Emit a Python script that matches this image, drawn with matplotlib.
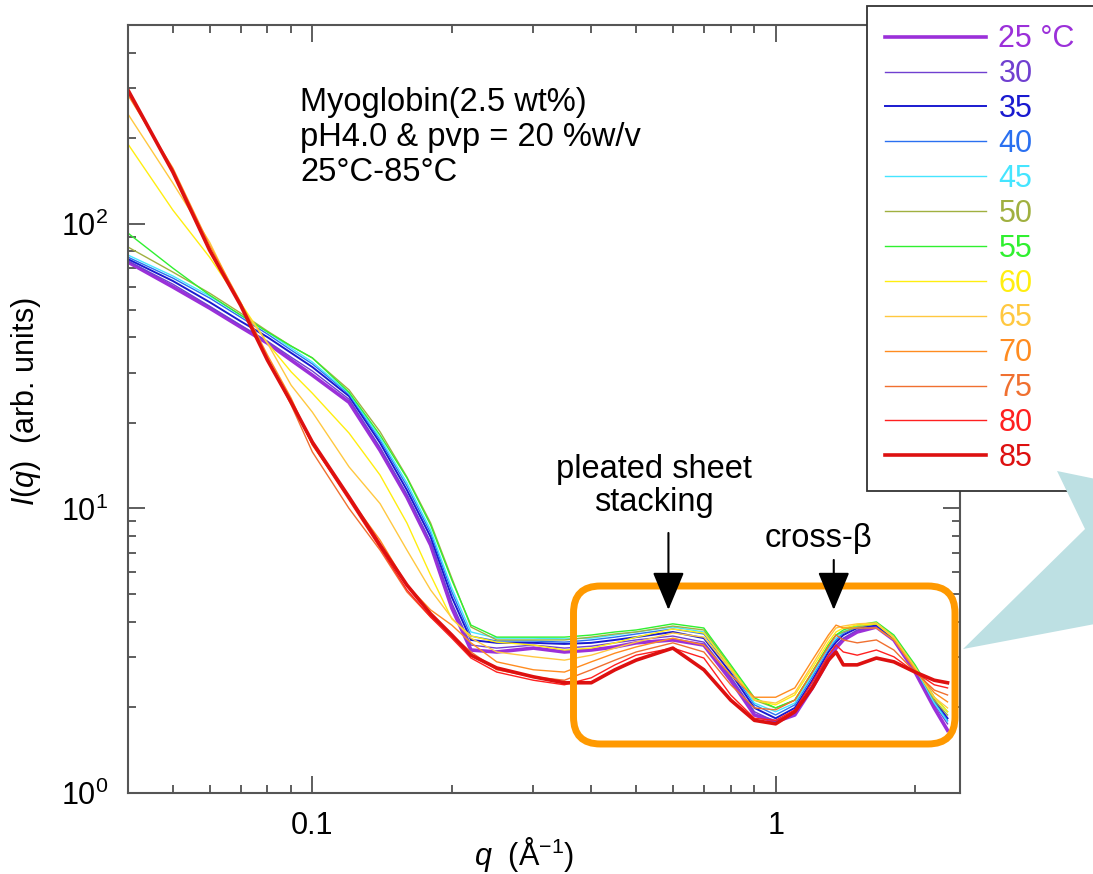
import matplotlib
matplotlib.use("Agg")
import matplotlib.pyplot as plt
from matplotlib.patches import FancyBboxPatch, Polygon
from matplotlib.ticker import FixedLocator, FixedFormatter, LogLocator, NullFormatter

plt.rcParams['font.family'] = ['Liberation Sans', 'DejaVu Sans']
plt.rcParams['mathtext.fontset'] = 'custom'
plt.rcParams['mathtext.rm'] = 'Liberation Sans'
plt.rcParams['mathtext.it'] = 'Liberation Sans:italic'
plt.rcParams['mathtext.bf'] = 'Liberation Sans:bold'

# q grid (1/A)
q = [0.04, 0.05, 0.06, 0.07, 0.08, 0.09, 0.10, 0.12, 0.14, 0.16, 0.18, 0.20,
     0.22, 0.25, 0.30, 0.35, 0.40, 0.45, 0.50, 0.60, 0.70, 0.80, 0.90, 1.00,
     1.10, 1.20, 1.30, 1.35, 1.40, 1.50, 1.65, 1.80, 2.00, 2.20, 2.35]

# I(q) per temperature
I_25 = [73.4, 60.0, 50.6, 43.4, 38.1, 33.2, 29.4, 23.6, 16.0, 10.96, 7.44, 4.47,
        3.18, 3.13, 3.23, 3.13, 3.18, 3.26, 3.37, 3.45, 3.31, 2.49, 1.88, 1.78,
        1.88, 2.34, 2.93, 3.23, 3.45, 3.68, 3.83, 3.45, 2.66, 1.99, 1.66]
I_30 = [74.0, 61.4, 51.4, 44.1, 38.7, 34.0, 30.4, 24.2, 16.4, 11.2, 7.62, 4.65,
        3.31, 3.23, 3.31, 3.23, 3.28, 3.37, 3.45, 3.56, 3.39, 2.56, 1.93, 1.78,
        1.93, 2.40, 3.03, 3.31, 3.50, 3.74, 3.86, 3.48, 2.71, 2.05, 1.75]
I_35 = [75.2, 63.0, 53.1, 45.5, 40.0, 35.2, 31.4, 24.8, 17.0, 11.6, 7.94, 4.88,
        3.45, 3.37, 3.37, 3.34, 3.37, 3.45, 3.53, 3.68, 3.50, 2.64, 1.99, 1.83,
        1.99, 2.49, 3.13, 3.39, 3.59, 3.80, 3.89, 3.50, 2.75, 2.12, 1.83]
I_40 = [76.4, 64.5, 54.9, 47.0, 41.0, 36.0, 32.2, 25.2, 17.4, 12.0, 8.20, 5.09,
        3.56, 3.42, 3.42, 3.39, 3.45, 3.53, 3.62, 3.77, 3.62, 2.71, 2.04, 1.88,
        2.04, 2.56, 3.21, 3.45, 3.65, 3.83, 3.93, 3.53, 2.75, 2.09, 1.80]
I_45 = [77.7, 65.6, 55.8, 47.8, 41.7, 36.6, 32.7, 25.4, 17.7, 12.3, 8.40, 5.25,
        3.68, 3.50, 3.50, 3.48, 3.50, 3.59, 3.68, 3.83, 3.68, 2.75, 2.07, 1.93,
        2.07, 2.60, 3.23, 3.50, 3.68, 3.86, 3.93, 3.53, 2.75, 2.07, 1.78]
I_50 = [82.9, 67.7, 57.1, 48.6, 42.0, 37.2, 33.8, 26.1, 18.6, 12.9, 8.89, 5.69,
        3.83, 3.45, 3.45, 3.45, 3.53, 3.62, 3.68, 3.86, 3.74, 2.77, 2.12, 1.99,
        2.12, 2.66, 3.31, 3.59, 3.68, 3.83, 3.93, 3.53, 2.77, 2.12, 1.88]
I_55 = [92.8, 69.9, 56.2, 47.8, 41.7, 37.2, 33.8, 25.6, 18.1, 12.8, 8.74, 5.60,
        3.89, 3.53, 3.53, 3.53, 3.59, 3.68, 3.74, 3.93, 3.80, 2.82, 2.16, 1.99,
        2.12, 2.66, 3.31, 3.59, 3.74, 3.89, 3.99, 3.59, 2.82, 2.17, 1.93]
I_60 = [190.7, 111.8, 76.4, 52.7, 38.1, 30.2, 25.4, 18.4, 13.1, 8.89, 5.83, 4.09,
        3.56, 3.39, 3.31, 3.18, 3.23, 3.37, 3.53, 3.77, 3.65, 2.75, 2.12, 2.04,
        2.21, 2.75, 3.39, 3.68, 3.80, 3.89, 3.93, 3.50, 2.75, 2.16, 1.93]
I_65 = [243.1, 139.1, 86.3, 51.8, 38.1, 27.1, 21.8, 14.0, 10.4, 7.14, 5.17, 4.12,
        3.50, 3.13, 3.01, 2.93, 3.05, 3.23, 3.39, 3.65, 3.53, 2.71, 2.12, 2.07,
        2.25, 2.82, 3.50, 3.80, 3.86, 3.93, 3.96, 3.53, 2.77, 2.17, 1.99]
I_70 = [283.6, 157.1, 84.2, 53.1, 34.6, 24.4, 16.7, 10.9, 7.74, 5.38, 4.40, 3.89,
        3.37, 2.89, 2.71, 2.66, 2.89, 3.10, 3.26, 3.50, 3.31, 2.60, 2.17, 2.17,
        2.34, 2.93, 3.59, 3.89, 3.80, 3.80, 3.80, 3.45, 2.71, 2.25, 2.09]
I_75 = [288.2, 154.5, 82.2, 51.8, 33.8, 23.1, 15.8, 10.0, 7.14, 5.09, 4.15, 3.59,
        3.13, 2.71, 2.56, 2.49, 2.71, 2.93, 3.13, 3.37, 3.13, 2.40, 1.99, 1.96,
        2.12, 2.66, 3.26, 3.59, 3.45, 3.37, 3.45, 3.18, 2.66, 2.30, 2.21]
I_80 = [292.9, 153.3, 81.5, 51.8, 33.2, 23.5, 16.8, 10.7, 7.26, 5.17, 4.15, 3.50,
        2.98, 2.66, 2.49, 2.40, 2.54, 2.82, 3.05, 3.23, 2.98, 2.21, 1.83, 1.80,
        1.96, 2.45, 3.05, 3.31, 3.13, 3.05, 3.18, 3.01, 2.66, 2.40, 2.34]
I_85 = [295.3, 152.1, 80.9, 51.8, 33.2, 23.6, 17.1, 10.96, 7.44, 5.38, 4.26, 3.59,
        3.05, 2.75, 2.56, 2.44, 2.44, 2.71, 2.93, 3.23, 2.71, 2.12, 1.80, 1.75,
        1.93, 2.34, 2.93, 3.13, 2.82, 2.82, 2.98, 2.89, 2.66, 2.49, 2.44]

labels = ['25 °C', '30', '35', '40', '45', '50', '55', '60', '65', '70', '75', '80', '85']
curves = [I_25, I_30, I_35, I_40, I_45, I_50, I_55, I_60, I_65, I_70, I_75, I_80, I_85]
colors = ['#9b30d9', '#7040d0', '#1a1ad0', '#2a70f0', '#45e5ff', '#a0b040', '#30f030',
          '#ffee10', '#ffc840', '#ff8c20', '#f07030', '#ff2020', '#dd1010']
widths = [2.6, 1.0, 1.4, 1.0, 1.0, 1.0, 1.0, 1.0, 1.0, 1.0, 1.0, 1.0, 2.6]

fig = plt.figure(figsize=(10.93, 8.74), dpi=100)
ax = fig.add_axes([0.1171, 0.0927, 0.7612, 0.8787])

for I, lab, c, lw in zip(curves, labels, colors, widths):
    ax.plot(q, I, color=c, lw=lw, label=lab)

ax.set_xscale('log')
ax.set_yscale('log')
ax.set_xlim(0.04, 2.5)
ax.set_ylim(1, 500)

ax.xaxis.set_major_locator(FixedLocator([0.1, 1]))
ax.xaxis.set_major_formatter(FixedFormatter(['0.1', '1']))
ax.xaxis.set_minor_locator(LogLocator(base=10, subs=range(2, 10)))
ax.xaxis.set_minor_formatter(NullFormatter())
ax.yaxis.set_major_locator(FixedLocator([1, 10, 100]))
ax.yaxis.set_major_formatter(FixedFormatter([r'$\mathregular{10^0}$', r'$\mathregular{10^1}$',
                                             r'$\mathregular{10^2}$']))
ax.yaxis.set_minor_locator(LogLocator(base=10, subs=range(2, 10)))
ax.yaxis.set_minor_formatter(NullFormatter())

ax.tick_params(which='both', direction='in', top=True, right=True, width=1.1, color='#333333')
ax.tick_params(which='major', length=12, labelsize=22)
ax.tick_params(which='minor', length=6)
ax.tick_params(axis='y', pad=14)
ax.tick_params(axis='x', pad=13)
for s in ax.spines.values():
    s.set_color('#555555')
    s.set_linewidth(1.5)

ax.set_xlabel(r'$\mathit{q}$  (Å$^{\mathregular{-1}}$)', fontsize=22)
ax.xaxis.set_label_coords(0.476, -0.055)
ax.set_ylabel(r'$\mathit{I(q)}$  (arb. units)', fontsize=22)
ax.yaxis.set_label_coords(-0.102, 0.51)

ax.text(0.2067, 0.919, 'Myoglobin(2.5 wt%)\npH4.0 & pvp = 20 %w/v\n25°C-85°C',
        transform=ax.transAxes, ha='left', va='top', fontsize=23.5, linespacing=1.17)

# peak annotations
arr = dict(arrowstyle='-|>,head_length=1.2,head_width=0.5', mutation_scale=20,
           color='black', lw=1.5, shrinkA=0, shrinkB=0)
ax.annotate('', xy=(0.587, 4.40), xytext=(0.587, 8.2), arrowprops=arr, zorder=5)
ax.annotate('', xy=(1.335, 4.40), xytext=(1.335, 6.59), arrowprops=arr, zorder=5)
ax.text(0.545, 11.98, 'pleated sheet\nstacking', ha='center', va='center',
        fontsize=23.5, linespacing=1.08)
ax.text(1.238, 7.87, 'cross-β', ha='center', va='center', fontsize=23.5)

# orange frame round the wide-angle region
box = FancyBboxPatch((5.735, 1.30), 3.815, 1.58, boxstyle='round,pad=0,rounding_size=0.27',
                     transform=fig.dpi_scale_trans, fill=False, edgecolor='#ff9900',
                     lw=5, clip_on=False, zorder=4)
ax.add_patch(box)

leg = ax.legend(loc='upper left', bbox_to_anchor=(867 / 1093, 0.1, 0.3, 1 - 6 / 874 - 0.1),
                bbox_transform=fig.transFigure, mode='expand', fontsize=22,
                handlelength=3.3, handletextpad=0.4, labelspacing=0.16, borderpad=0.6,
                borderaxespad=0, fancybox=False, framealpha=1, edgecolor='#333333')
leg.get_frame().set_linewidth(1.3)
leg.set_zorder(6)
for t, c in zip(leg.get_texts(), colors):
    t.set_color(c)

# callout wedge at the right
wedge = Polygon([(0.8811, 0.2574), (0.9927, 0.3947), (0.9671, 0.4611),
                 (1.01, 0.4500), (1.01, 0.2880)], closed=True,
                transform=fig.transFigure, facecolor='#bde0e3', edgecolor='none', zorder=10)
fig.add_artist(wedge)

fig.savefig('out.png', dpi=100)
